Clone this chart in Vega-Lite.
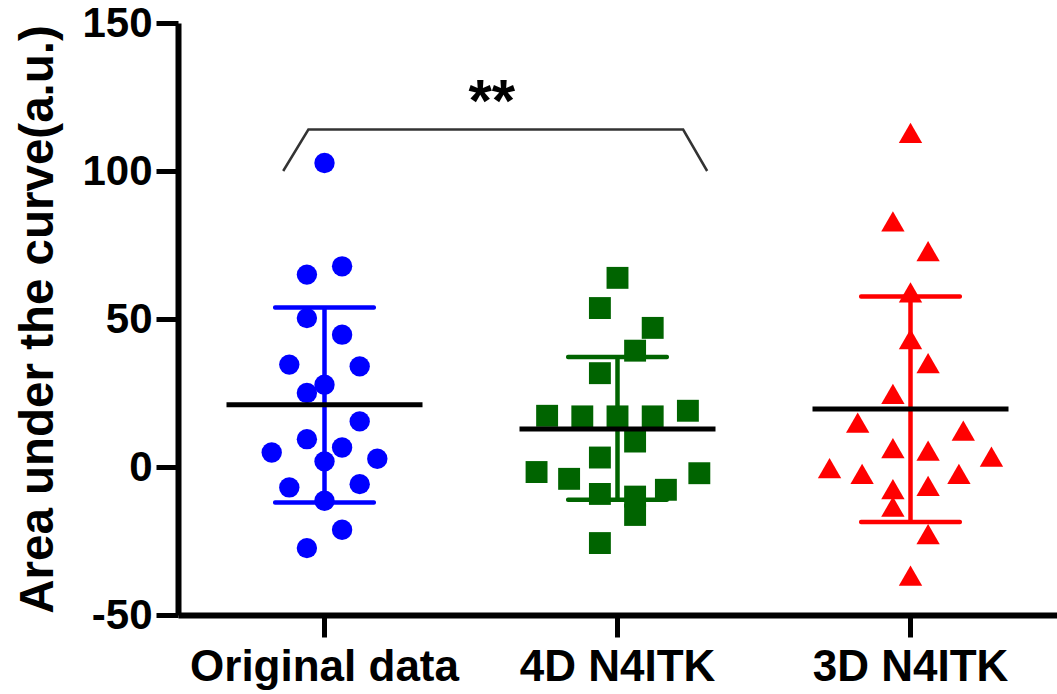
{
  "$schema": "https://vega.github.io/schema/vega-lite/v6.json",
  "width": 879,
  "height": 592,
  "autosize": {"type": "none"},
  "padding": {"left": 178, "top": 23, "right": 0, "bottom": 79},
  "config": {
    "view": {"stroke": null},
    "font": "Liberation Sans",
    "axis": {"grid": false, "domainColor": "black", "domainWidth": 6, "tickColor": "black", "tickWidth": 5, "tickSize": 22, "labelColor": "black", "labelFontWeight": "bold", "titleColor": "black", "titleFontWeight": "bold", "labelLimit": 600},
    "axisX": {"labelAngle": 0, "labelFontSize": 44, "labelPadding": 8, "title": null},
    "axisY": {"labelFontSize": 42, "labelPadding": 4, "titleFontSize": 47.5, "titleAngle": -90, "titleAlign": "center", "titleBaseline": "alphabetic", "titleX": -126, "titleY": 296}
  },
  "datasets": {
    "points": [
      {"group": "Original data", "value": 102.7, "jitter": 0},
      {"group": "Original data", "value": 67.8, "jitter": 1},
      {"group": "Original data", "value": 65.0, "jitter": -1},
      {"group": "Original data", "value": 50.3, "jitter": -1},
      {"group": "Original data", "value": 44.7, "jitter": 1},
      {"group": "Original data", "value": 34.6, "jitter": -2},
      {"group": "Original data", "value": 34.0, "jitter": 2},
      {"group": "Original data", "value": 27.8, "jitter": 0},
      {"group": "Original data", "value": 25.0, "jitter": -1},
      {"group": "Original data", "value": 15.4, "jitter": 2},
      {"group": "Original data", "value": 9.4, "jitter": -1},
      {"group": "Original data", "value": 4.9, "jitter": -3},
      {"group": "Original data", "value": 6.6, "jitter": 1},
      {"group": "Original data", "value": 1.9, "jitter": 0},
      {"group": "Original data", "value": 2.8, "jitter": 3},
      {"group": "Original data", "value": -6.9, "jitter": -2},
      {"group": "Original data", "value": -5.8, "jitter": 2},
      {"group": "Original data", "value": -11.4, "jitter": 0},
      {"group": "Original data", "value": -21.2, "jitter": 1},
      {"group": "Original data", "value": -27.4, "jitter": -1},
      {"group": "4D N4ITK", "value": 63.9, "jitter": 0},
      {"group": "4D N4ITK", "value": 53.7, "jitter": -1},
      {"group": "4D N4ITK", "value": 47.0, "jitter": 2},
      {"group": "4D N4ITK", "value": 39.3, "jitter": 1},
      {"group": "4D N4ITK", "value": 31.7, "jitter": -1},
      {"group": "4D N4ITK", "value": 17.3, "jitter": -4},
      {"group": "4D N4ITK", "value": 17.1, "jitter": -2},
      {"group": "4D N4ITK", "value": 17.1, "jitter": 0},
      {"group": "4D N4ITK", "value": 17.1, "jitter": 2},
      {"group": "4D N4ITK", "value": 19.0, "jitter": 4},
      {"group": "4D N4ITK", "value": 8.6, "jitter": 1},
      {"group": "4D N4ITK", "value": 3.2, "jitter": -1},
      {"group": "4D N4ITK", "value": -1.7, "jitter": -4.6},
      {"group": "4D N4ITK", "value": -4.0, "jitter": -2.75},
      {"group": "4D N4ITK", "value": -2.1, "jitter": 4.65},
      {"group": "4D N4ITK", "value": -9.1, "jitter": -1},
      {"group": "4D N4ITK", "value": -10.0, "jitter": 1},
      {"group": "4D N4ITK", "value": -7.7, "jitter": 2.75},
      {"group": "4D N4ITK", "value": -16.2, "jitter": 1},
      {"group": "4D N4ITK", "value": -25.7, "jitter": -1},
      {"group": "3D N4ITK", "value": 112.9, "jitter": 0},
      {"group": "3D N4ITK", "value": 83.0, "jitter": -1},
      {"group": "3D N4ITK", "value": 72.9, "jitter": 1},
      {"group": "3D N4ITK", "value": 59.0, "jitter": 0},
      {"group": "3D N4ITK", "value": 43.2, "jitter": 0},
      {"group": "3D N4ITK", "value": 35.1, "jitter": 1},
      {"group": "3D N4ITK", "value": 24.7, "jitter": -1},
      {"group": "3D N4ITK", "value": 15.0, "jitter": -3},
      {"group": "3D N4ITK", "value": 12.3, "jitter": 3},
      {"group": "3D N4ITK", "value": 6.4, "jitter": -1},
      {"group": "3D N4ITK", "value": 5.5, "jitter": 1},
      {"group": "3D N4ITK", "value": 3.5, "jitter": 4.6},
      {"group": "3D N4ITK", "value": -0.4, "jitter": -4.6},
      {"group": "3D N4ITK", "value": -2.3, "jitter": -2.75},
      {"group": "3D N4ITK", "value": -2.3, "jitter": 2.75},
      {"group": "3D N4ITK", "value": -7.5, "jitter": -1},
      {"group": "3D N4ITK", "value": -6.4, "jitter": 1},
      {"group": "3D N4ITK", "value": -13.4, "jitter": -1},
      {"group": "3D N4ITK", "value": -22.7, "jitter": 1},
      {"group": "3D N4ITK", "value": -36.7, "jitter": 0}
    ],
    "summary": [
      {"group": "Original data", "mean": 21.0, "lo": -12.0, "hi": 53.9},
      {"group": "4D N4ITK", "mean": 12.8, "lo": -11.1, "hi": 37.2},
      {"group": "3D N4ITK", "mean": 19.6, "lo": -18.6, "hi": 57.6}
    ],
    "bracket": [
      {"bx": 0.359, "by": 100},
      {"bx": 0.445, "by": 114},
      {"bx": 1.724, "by": 114},
      {"bx": 1.806, "by": 100}
    ],
    "stars": [
      {"tx": 1.071, "ty": 117, "label": "**"}
    ]
  },
  "resolve": {"scale": {"x": "independent"}, "axis": {"x": "independent"}},
  "layer": [
    {
      "layer": [
        {
          "data": {"name": "points"},
          "mark": {"type": "point", "filled": true, "opacity": 1, "strokeWidth": 0},
          "encoding": {
            "x": {
              "field": "group", "type": "nominal", "title": null,
              "scale": {"type": "band", "domain": ["Original data", "4D N4ITK", "3D N4ITK"], "paddingInner": 0, "paddingOuter": 0}
            },
            "xOffset": {"field": "jitter", "type": "quantitative", "scale": {"domain": [-8.325, 8.325], "range": [0, 293], "zero": false, "nice": false}},
            "y": {
              "field": "value", "type": "quantitative", "title": "Area under the curve(a.u.)",
              "scale": {"domain": [-50, 150], "nice": false, "zero": false},
              "axis": {"values": [-50, 0, 50, 100, 150], "labelExpr": "'' + datum.value"}
            },
            "color": {"field": "group", "type": "nominal", "legend": null, "scale": {"domain": ["Original data", "4D N4ITK", "3D N4ITK"], "range": ["#0000FF", "#006400", "#FF0000"]}},
            "shape": {"field": "group", "type": "nominal", "legend": null, "scale": {"domain": ["Original data", "4D N4ITK", "3D N4ITK"], "range": ["circle", "square", "triangle-up"]}},
            "size": {"field": "group", "type": "nominal", "legend": null, "scale": {"domain": ["Original data", "4D N4ITK", "3D N4ITK"], "range": [415, 545, 490]}}
          }
        },
        {
          "data": {"name": "summary"},
          "mark": {"type": "rule", "strokeWidth": 4.5, "opacity": 1},
          "encoding": {
            "x": {"field": "group", "type": "nominal", "title": null},
            "y": {"field": "lo", "type": "quantitative", "title": "Area under the curve(a.u.)", "scale": {"domain": [-50, 150], "nice": false, "zero": false}},
            "y2": {"field": "hi"},
            "color": {"field": "group", "type": "nominal", "legend": null, "scale": {"domain": ["Original data", "4D N4ITK", "3D N4ITK"], "range": ["#0000FF", "#006400", "#FF0000"]}}
          }
        },
        {
          "data": {"name": "summary"},
          "mark": {"type": "tick", "size": 103, "thickness": 4.5, "cornerRadius": 2, "opacity": 1},
          "encoding": {
            "x": {"field": "group", "type": "nominal", "title": null},
            "y": {"field": "lo", "type": "quantitative", "title": "Area under the curve(a.u.)", "scale": {"domain": [-50, 150], "nice": false, "zero": false}},
            "color": {"field": "group", "type": "nominal", "legend": null, "scale": {"domain": ["Original data", "4D N4ITK", "3D N4ITK"], "range": ["#0000FF", "#006400", "#FF0000"]}}
          }
        },
        {
          "data": {"name": "summary"},
          "mark": {"type": "tick", "size": 103, "thickness": 4.5, "cornerRadius": 2, "opacity": 1},
          "encoding": {
            "x": {"field": "group", "type": "nominal", "title": null},
            "y": {"field": "hi", "type": "quantitative", "title": "Area under the curve(a.u.)", "scale": {"domain": [-50, 150], "nice": false, "zero": false}},
            "color": {"field": "group", "type": "nominal", "legend": null, "scale": {"domain": ["Original data", "4D N4ITK", "3D N4ITK"], "range": ["#0000FF", "#006400", "#FF0000"]}}
          }
        },
        {
          "data": {"name": "summary"},
          "mark": {"type": "tick", "size": 196, "thickness": 5, "color": "black", "opacity": 1},
          "encoding": {
            "x": {"field": "group", "type": "nominal", "title": null},
            "y": {"field": "mean", "type": "quantitative", "title": "Area under the curve(a.u.)", "scale": {"domain": [-50, 150], "nice": false, "zero": false}}
          }
        }
      ]
    },
    {
      "layer": [
        {
          "data": {"name": "bracket"},
          "mark": {"type": "line", "color": "#333333", "strokeWidth": 2.5},
          "encoding": {
            "x": {"field": "bx", "type": "quantitative", "axis": null, "scale": {"domain": [0, 3], "nice": false, "zero": false}},
            "y": {"field": "by", "type": "quantitative", "title": "Area under the curve(a.u.)", "scale": {"domain": [-50, 150], "nice": false, "zero": false}}
          }
        },
        {
          "data": {"name": "stars"},
          "mark": {"type": "text", "fontSize": 60, "fontWeight": "bold", "color": "black", "align": "center", "baseline": "alphabetic"},
          "encoding": {
            "x": {"field": "tx", "type": "quantitative", "axis": null, "scale": {"domain": [0, 3], "nice": false, "zero": false}},
            "y": {"field": "ty", "type": "quantitative", "title": "Area under the curve(a.u.)", "scale": {"domain": [-50, 150], "nice": false, "zero": false}},
            "text": {"field": "label"}
          }
        }
      ]
    }
  ]
}
